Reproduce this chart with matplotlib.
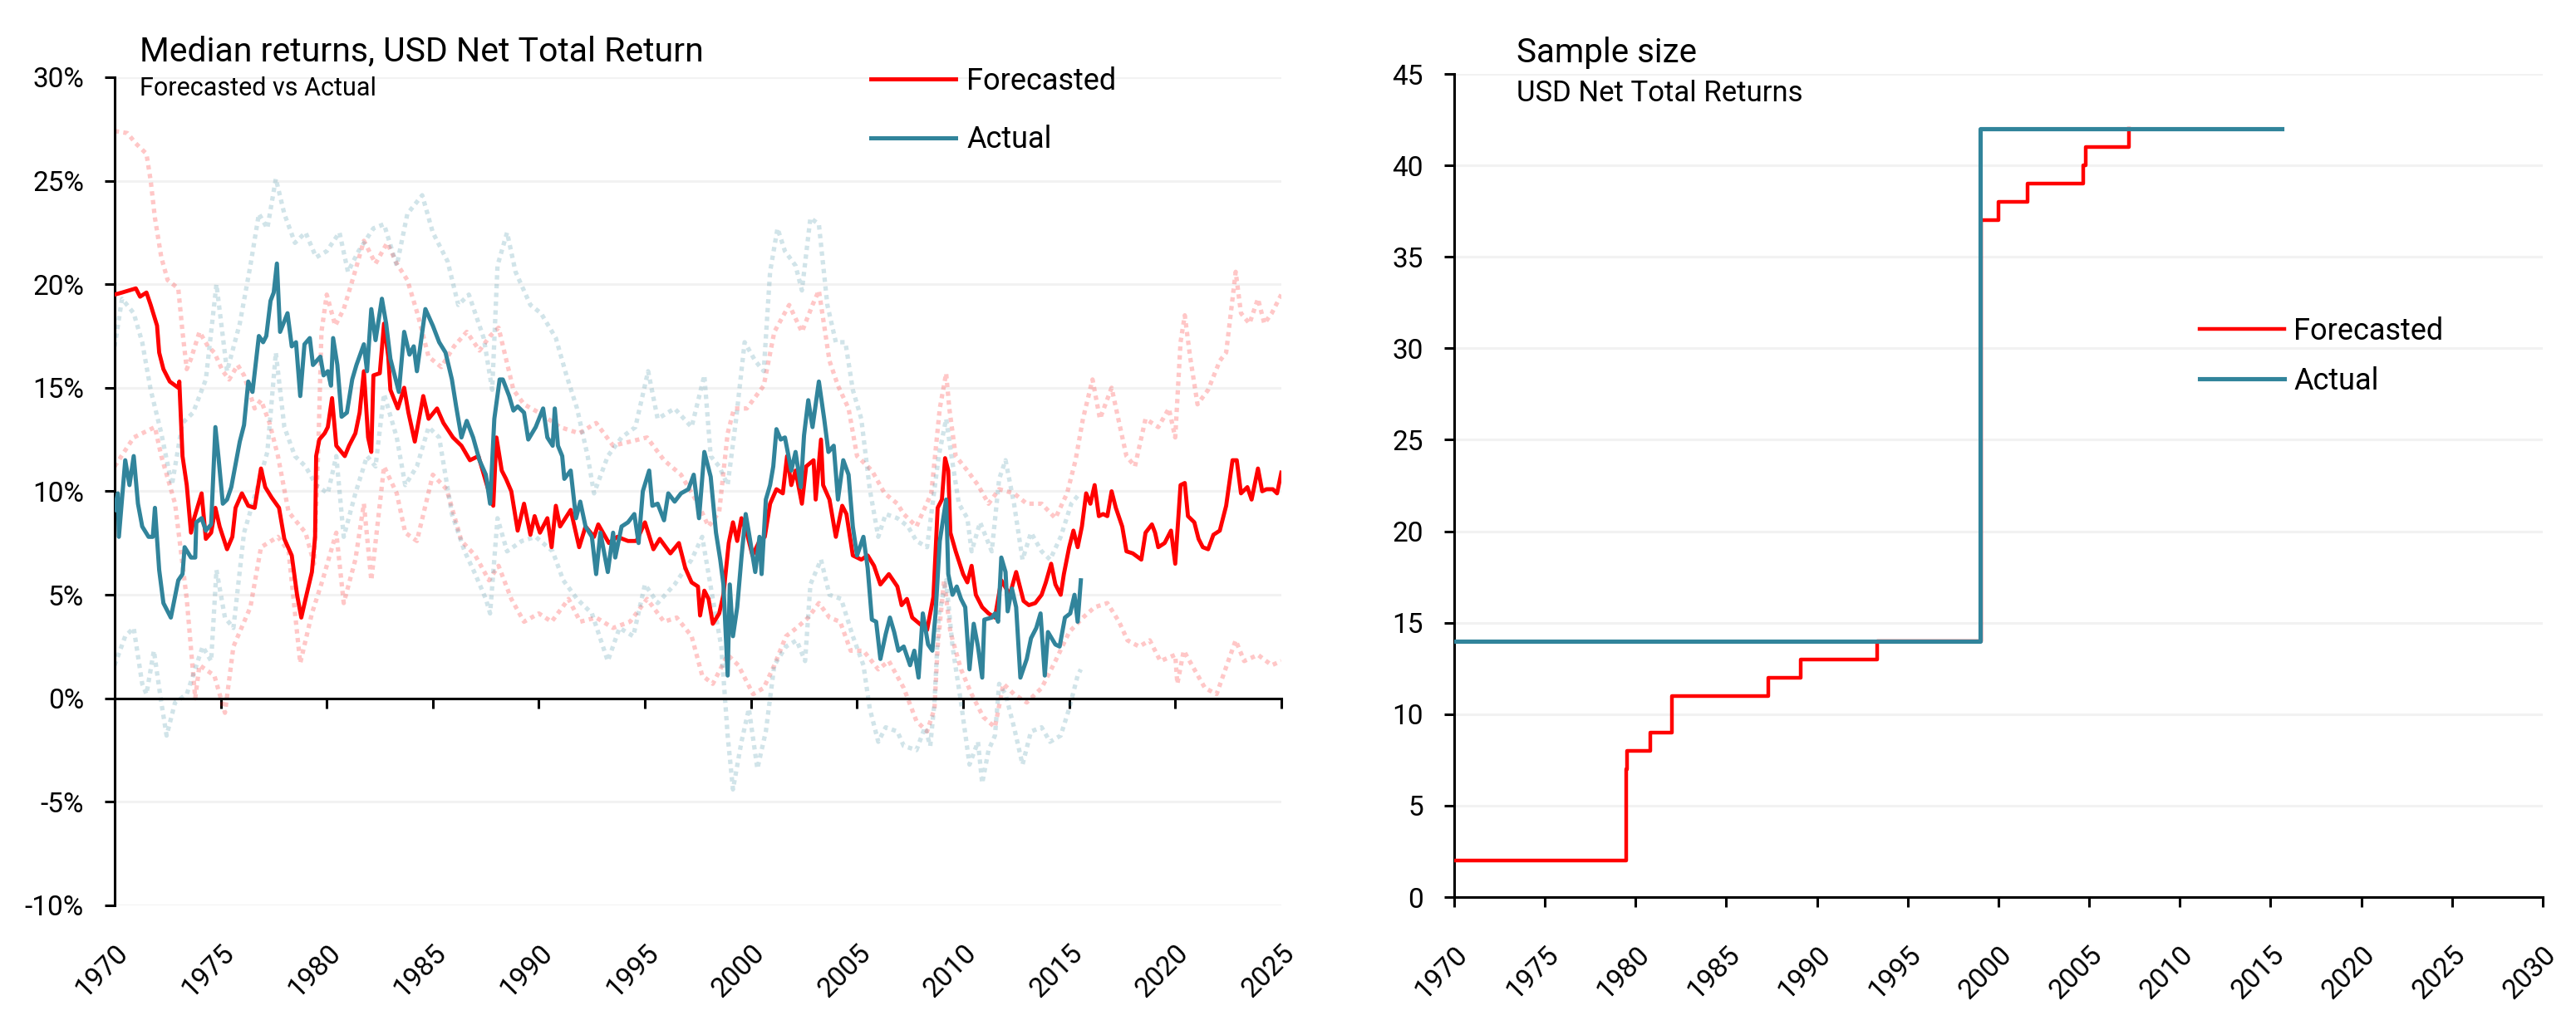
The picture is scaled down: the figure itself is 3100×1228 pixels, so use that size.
import matplotlib
matplotlib.use('Agg')
import matplotlib.pyplot as plt
from matplotlib.ticker import FuncFormatter

plt.rcParams['font.family'] = ['Roboto', 'DejaVu Sans']

RED = '#FF0000'
TEAL = '#31849B'
GRID = '#F2F2F2'

# left chart: median returns in %, (year, value)
fc_median = [
    (1970.0, 19.5), (1970.35, 19.6), (1971.0, 19.8), (1971.2, 19.4), (1971.5, 19.6), (1971.7, 19.0),
    (1972.0, 18.0), (1972.1, 16.7), (1972.3, 15.9), (1972.6, 15.3), (1973.0, 15.0), (1973.05, 15.3),
    (1973.2, 11.7), (1973.4, 10.3), (1973.6, 8.0), (1973.75, 8.7), (1974.1, 9.9), (1974.3, 7.7),
    (1974.55, 8.0), (1974.75, 9.2), (1974.95, 8.3), (1975.3, 7.2), (1975.55, 7.8), (1975.7, 9.2),
    (1976.0, 9.9), (1976.3, 9.3), (1976.6, 9.2), (1976.9, 11.1), (1977.1, 10.2), (1977.4, 9.7),
    (1977.75, 9.2), (1978.0, 7.7), (1978.35, 6.9), (1978.6, 5.0), (1978.8, 3.9), (1979.0, 4.8),
    (1979.3, 6.1), (1979.45, 7.8), (1979.5, 11.7), (1979.65, 12.5), (1979.9, 12.8), (1980.05, 13.1),
    (1980.25, 14.5), (1980.45, 12.2), (1980.85, 11.7), (1981.05, 12.2), (1981.35, 12.8), (1981.55, 13.8),
    (1981.75, 15.8), (1981.95, 12.6), (1982.1, 11.9), (1982.2, 15.6), (1982.5, 15.7), (1982.7, 18.1),
    (1982.9, 16.5), (1983.0, 14.9), (1983.35, 14.0), (1983.65, 15.0), (1983.85, 13.8), (1984.15, 12.4),
    (1984.55, 14.6), (1984.8, 13.5), (1985.2, 14.0), (1985.5, 13.3), (1985.95, 12.6), (1986.35, 12.2),
    (1986.75, 11.5), (1987.15, 11.7), (1987.55, 10.3), (1987.85, 9.3), (1988.0, 12.6), (1988.25, 11.0),
    (1988.45, 10.6), (1988.7, 10.0), (1989.0, 8.1), (1989.3, 9.4), (1989.6, 7.9), (1989.8, 8.8),
    (1990.05, 8.0), (1990.4, 8.7), (1990.6, 7.3), (1990.8, 9.3), (1991.0, 8.3), (1991.5, 9.1),
    (1991.9, 7.3), (1992.2, 8.3), (1992.6, 7.8), (1992.8, 8.4), (1993.3, 7.5), (1993.7, 7.8),
    (1994.2, 7.6), (1994.6, 7.6), (1995.0, 8.5), (1995.4, 7.2), (1995.7, 7.7), (1996.2, 7.0),
    (1996.6, 7.5), (1996.9, 6.3), (1997.2, 5.6), (1997.5, 5.4), (1997.6, 4.0), (1997.8, 5.2),
    (1998.0, 4.8), (1998.2, 3.6), (1998.5, 4.1), (1998.7, 5.0), (1998.95, 7.5), (1999.15, 8.5),
    (1999.35, 7.6), (1999.55, 8.7), (1999.8, 8.0), (2000.07, 6.9), (2000.4, 7.6), (2000.65, 7.8),
    (2000.9, 9.4), (2001.2, 10.1), (2001.5, 9.9), (2001.7, 11.7), (2001.9, 10.3), (2002.1, 11.0),
    (2002.4, 9.4), (2002.6, 11.2), (2002.95, 11.5), (2003.05, 9.6), (2003.3, 12.5), (2003.4, 10.3),
    (2003.7, 9.6), (2004.0, 7.8), (2004.3, 9.3), (2004.5, 8.9), (2004.8, 6.9), (2005.2, 6.7),
    (2005.5, 6.9), (2005.8, 6.4), (2006.1, 5.5), (2006.5, 6.0), (2006.9, 5.4), (2007.1, 4.5),
    (2007.35, 4.8), (2007.6, 3.9), (2007.95, 3.6), (2008.3, 3.3), (2008.6, 4.9), (2008.8, 9.2),
    (2009.0, 9.6), (2009.15, 11.6), (2009.3, 11.0), (2009.4, 8.0), (2009.65, 7.1), (2010.0, 6.0),
    (2010.2, 5.6), (2010.4, 6.4), (2010.6, 5.0), (2010.9, 4.4), (2011.2, 4.1), (2011.5, 3.9),
    (2011.8, 5.7), (2012.2, 5.0), (2012.5, 6.1), (2012.85, 4.7), (2013.1, 4.5), (2013.4, 4.6),
    (2013.7, 5.0), (2013.9, 5.6), (2014.15, 6.5), (2014.35, 5.5), (2014.6, 5.0), (2014.75, 6.0),
    (2015.0, 7.3), (2015.2, 8.1), (2015.4, 7.3), (2015.6, 8.3), (2015.8, 9.9), (2016.0, 9.4),
    (2016.2, 10.3), (2016.4, 8.8), (2016.6, 8.9), (2016.8, 8.8), (2017.0, 10.0), (2017.2, 9.2),
    (2017.5, 8.3), (2017.7, 7.1), (2018.0, 7.0), (2018.4, 6.7), (2018.6, 8.0), (2018.9, 8.4),
    (2019.05, 8.0), (2019.2, 7.3), (2019.5, 7.5), (2019.8, 8.1), (2020.0, 6.5), (2020.25, 10.3),
    (2020.45, 10.4), (2020.6, 8.8), (2020.9, 8.5), (2021.1, 7.7), (2021.3, 7.3), (2021.55, 7.2),
    (2021.8, 7.9), (2022.1, 8.1), (2022.4, 9.3), (2022.7, 11.5), (2022.9, 11.5), (2023.1, 9.9),
    (2023.4, 10.2), (2023.6, 9.6), (2023.9, 11.1), (2024.1, 10.0), (2024.3, 10.1), (2024.6, 10.1),
    (2024.8, 9.9), (2025.0, 10.9),
]

act_median = [
    (1970.0, 9.1), (1970.15, 9.9), (1970.2, 7.8), (1970.5, 11.5), (1970.7, 10.3), (1970.9, 11.7),
    (1971.1, 9.4), (1971.3, 8.3), (1971.6, 7.8), (1971.8, 7.8), (1971.9, 9.2), (1972.1, 6.2),
    (1972.3, 4.6), (1972.65, 3.9), (1973.0, 5.7), (1973.2, 6.0), (1973.3, 7.3), (1973.6, 6.8),
    (1973.8, 6.8), (1973.85, 8.5), (1974.1, 8.7), (1974.3, 8.1), (1974.55, 8.4), (1974.75, 13.1),
    (1974.9, 11.6), (1975.1, 9.4), (1975.3, 9.6), (1975.5, 10.2), (1975.9, 12.4), (1976.1, 13.2),
    (1976.3, 15.3), (1976.5, 14.8), (1976.8, 17.5), (1977.0, 17.2), (1977.15, 17.5), (1977.35, 19.2),
    (1977.5, 19.6), (1977.65, 21.0), (1977.8, 17.7), (1978.15, 18.6), (1978.35, 17.0), (1978.55, 17.2),
    (1978.75, 14.6), (1978.95, 17.1), (1979.2, 17.4), (1979.35, 16.1), (1979.7, 16.5), (1979.85, 15.6),
    (1980.05, 15.8), (1980.2, 15.1), (1980.3, 17.4), (1980.5, 16.1), (1980.7, 13.6), (1980.95, 13.8),
    (1981.2, 15.4), (1981.4, 16.1), (1981.75, 17.1), (1981.9, 15.8), (1982.1, 18.8), (1982.3, 17.3),
    (1982.6, 19.3), (1982.8, 18.1), (1983.0, 16.4), (1983.25, 15.4), (1983.4, 14.8), (1983.65, 17.7),
    (1983.9, 16.6), (1984.1, 17.0), (1984.25, 15.8), (1984.65, 18.8), (1985.0, 18.0), (1985.3, 17.2),
    (1985.6, 16.7), (1985.9, 15.4), (1986.1, 14.1), (1986.35, 12.6), (1986.6, 13.4), (1986.9, 12.6),
    (1987.2, 11.5), (1987.5, 10.8), (1987.7, 9.4), (1987.9, 13.5), (1988.15, 15.4), (1988.3, 15.4),
    (1988.6, 14.6), (1988.8, 13.9), (1989.0, 14.1), (1989.3, 13.8), (1989.5, 12.5), (1989.85, 13.1),
    (1990.2, 14.0), (1990.4, 12.6), (1990.65, 12.2), (1990.75, 14.0), (1990.9, 12.2), (1991.1, 11.7),
    (1991.2, 10.6), (1991.5, 11.0), (1991.75, 8.7), (1991.95, 9.5), (1992.2, 8.3), (1992.5, 7.8),
    (1992.7, 6.0), (1992.9, 8.0), (1993.25, 6.1), (1993.5, 8.0), (1993.6, 6.8), (1993.9, 8.3),
    (1994.2, 8.5), (1994.5, 8.9), (1994.7, 7.5), (1994.9, 10.0), (1995.2, 11.0), (1995.35, 9.3),
    (1995.6, 9.4), (1995.9, 8.6), (1996.1, 9.9), (1996.4, 9.5), (1996.7, 9.9), (1997.05, 10.1),
    (1997.3, 10.8), (1997.55, 8.7), (1997.8, 11.9), (1998.1, 10.7), (1998.35, 8.0), (1998.55, 6.7),
    (1998.7, 5.5), (1998.9, 1.1), (1999.0, 5.5), (1999.15, 3.0), (1999.35, 4.4), (1999.55, 6.8),
    (1999.75, 8.9), (1999.9, 8.0), (2000.2, 6.1), (2000.4, 7.8), (2000.5, 6.0), (2000.7, 9.6),
    (2000.9, 10.3), (2001.05, 11.2), (2001.2, 13.0), (2001.4, 12.5), (2001.6, 12.6), (2001.9, 11.0),
    (2002.1, 11.9), (2002.35, 10.2), (2002.5, 12.7), (2002.7, 14.4), (2002.9, 13.1), (2003.2, 15.3),
    (2003.45, 13.5), (2003.65, 11.9), (2003.9, 12.2), (2004.1, 9.6), (2004.35, 11.5), (2004.6, 10.8),
    (2004.8, 8.3), (2005.0, 6.9), (2005.3, 7.8), (2005.5, 6.3), (2005.7, 3.8), (2005.9, 3.7),
    (2006.1, 1.9), (2006.35, 3.1), (2006.55, 3.9), (2006.75, 3.2), (2006.95, 2.3), (2007.2, 2.5),
    (2007.5, 1.6), (2007.7, 2.3), (2007.9, 1.0), (2008.1, 4.1), (2008.35, 2.6), (2008.55, 2.3),
    (2008.7, 4.1), (2008.9, 7.6), (2009.2, 9.6), (2009.3, 6.0), (2009.5, 5.0), (2009.7, 5.4),
    (2009.9, 4.8), (2010.1, 4.4), (2010.3, 1.4), (2010.5, 3.6), (2010.7, 2.5), (2010.9, 1.0),
    (2011.0, 3.8), (2011.35, 3.9), (2011.5, 4.1), (2011.65, 3.7), (2011.8, 6.8), (2012.0, 6.1),
    (2012.1, 4.2), (2012.3, 5.3), (2012.5, 4.4), (2012.7, 1.0), (2013.0, 1.9), (2013.2, 2.9),
    (2013.45, 3.4), (2013.65, 4.1), (2013.85, 1.1), (2014.0, 3.2), (2014.35, 2.6), (2014.55, 2.5),
    (2014.8, 3.9), (2015.05, 4.1), (2015.25, 5.0), (2015.4, 3.7), (2015.55, 5.7),
]

# faint dotted bands around each median
fc_upper = [
    (1970.0, 27.4), (1970.6, 27.3), (1971.0, 26.8), (1971.5, 26.3), (1971.7, 25.0), (1971.9, 23.2),
    (1972.2, 21.3), (1972.5, 20.2), (1973.0, 19.8), (1973.2, 17.7), (1973.4, 15.9), (1973.6, 16.4),
    (1974.0, 17.7), (1974.4, 17.0), (1974.7, 16.7), (1975.1, 15.8), (1975.4, 15.4), (1975.8, 16.1),
    (1976.1, 15.6), (1976.6, 14.0), (1976.9, 14.4), (1977.3, 13.3), (1977.7, 11.7), (1978.2, 9.0),
    (1978.6, 8.5), (1979.0, 8.0), (1979.4, 6.5), (1979.6, 12.0), (1979.75, 17.7), (1980.0, 19.5),
    (1980.4, 18.0), (1980.8, 18.8), (1981.3, 20.5), (1981.75, 22.1), (1982.3, 21.0), (1982.85, 22.0),
    (1983.3, 21.0), (1983.8, 20.2), (1984.3, 18.5), (1984.8, 16.5), (1985.4, 16.0), (1986.0, 17.0),
    (1986.6, 17.7), (1987.2, 16.8), (1987.7, 17.5), (1988.1, 17.9), (1988.8, 14.9), (1989.3, 14.2),
    (1990.0, 13.8), (1991.0, 13.1), (1991.9, 12.8), (1992.7, 13.3), (1993.5, 12.2), (1994.3, 12.4),
    (1995.1, 12.6), (1995.9, 11.5), (1996.7, 10.8), (1997.5, 9.4), (1998.0, 8.3), (1998.5, 9.0),
    (1998.9, 12.8), (1999.2, 14.0), (1999.8, 14.0), (2000.6, 15.1), (2001.1, 17.7), (2001.8, 19.0),
    (2002.4, 17.7), (2002.9, 19.0), (2003.2, 19.7), (2003.7, 16.3), (2004.1, 15.1), (2004.6, 14.0),
    (2005.0, 11.7), (2005.7, 11.0), (2006.3, 9.9), (2006.9, 9.4), (2007.2, 8.9), (2007.8, 8.3),
    (2008.5, 9.9), (2008.9, 14.0), (2009.2, 15.7), (2009.35, 14.0), (2009.65, 11.7), (2010.2, 11.0),
    (2010.7, 10.3), (2011.2, 9.4), (2011.7, 10.1), (2012.4, 9.9), (2013.0, 9.4), (2013.7, 9.4),
    (2014.35, 8.7), (2014.9, 9.9), (2015.3, 11.5), (2015.65, 13.5), (2016.1, 15.4), (2016.45, 13.5),
    (2017.0, 15.0), (2017.4, 13.1), (2017.7, 11.7), (2018.1, 11.2), (2018.6, 13.5), (2019.2, 13.1),
    (2019.7, 14.0), (2020.0, 12.6), (2020.25, 17.2), (2020.45, 18.5), (2020.7, 16.5), (2021.05, 14.2),
    (2021.55, 14.9), (2022.1, 16.3), (2022.4, 16.7), (2022.7, 19.3), (2022.85, 20.6), (2023.1, 18.6),
    (2023.5, 18.1), (2023.9, 19.3), (2024.2, 18.1), (2024.55, 18.6), (2025.0, 19.5),
]

fc_lower = [
    (1970.0, 11.2), (1970.9, 12.6), (1971.9, 13.1), (1972.2, 11.7), (1972.85, 9.4), (1973.4, 4.8),
    (1973.8, 0.0), (1974.0, 1.6), (1974.7, 1.1), (1975.2, -0.7), (1975.6, 2.5), (1976.4, 4.4),
    (1976.9, 7.3), (1977.7, 7.8), (1978.2, 7.1), (1978.75, 1.7), (1979.3, 4.1), (1979.8, 5.7),
    (1980.45, 8.0), (1980.8, 4.6), (1981.35, 6.7), (1981.75, 9.4), (1982.1, 5.7), (1982.7, 11.2),
    (1983.3, 9.9), (1983.7, 8.0), (1984.25, 7.6), (1985.0, 10.8), (1985.65, 10.1), (1986.35, 7.6),
    (1987.0, 6.9), (1987.65, 5.7), (1988.1, 6.4), (1988.7, 4.8), (1989.3, 3.7), (1990.0, 4.1),
    (1990.6, 3.7), (1991.4, 4.8), (1991.95, 3.7), (1992.7, 3.9), (1993.5, 3.4), (1994.3, 3.7),
    (1995.1, 4.8), (1995.9, 3.7), (1996.5, 3.9), (1997.2, 3.0), (1997.7, 1.1), (1998.2, 0.7),
    (1998.9, 2.1), (1999.4, 1.6), (2000.1, 0.2), (2000.6, 0.5), (2001.1, 1.6), (2001.65, 3.0),
    (2002.15, 3.4), (2002.7, 3.9), (2003.2, 4.6), (2003.7, 3.9), (2004.2, 3.7), (2004.7, 2.3),
    (2005.3, 2.3), (2006.0, 1.4), (2006.5, 1.8), (2007.2, 0.5), (2007.8, -1.1), (2008.3, -1.6),
    (2008.65, -0.5), (2008.8, 2.5), (2009.1, 5.7), (2009.4, 3.2), (2009.9, 1.4), (2010.4, 0.2),
    (2010.95, -0.9), (2011.5, -1.4), (2011.9, 0.7), (2012.4, 0.2), (2013.0, -0.2), (2013.7, 0.5),
    (2014.35, 1.8), (2015.0, 3.2), (2015.65, 3.9), (2016.2, 4.4), (2016.8, 4.6), (2017.35, 3.7),
    (2017.75, 2.8), (2018.3, 2.5), (2018.8, 2.8), (2019.3, 1.8), (2020.0, 2.1), (2020.1, 0.7),
    (2020.4, 2.3), (2020.9, 1.4), (2021.4, 0.5), (2021.95, 0.2), (2022.5, 1.8), (2022.85, 2.8),
    (2023.25, 1.8), (2023.9, 2.1), (2024.55, 1.6), (2025.0, 1.8),
]

act_upper = [
    (1970.0, 17.0), (1970.35, 19.3), (1970.9, 18.6), (1971.3, 17.2), (1971.7, 14.9), (1972.2, 12.8),
    (1972.7, 10.3), (1973.2, 13.3), (1973.7, 13.8), (1974.3, 15.4), (1974.8, 20.0), (1975.3, 15.8),
    (1975.9, 18.1), (1976.4, 20.9), (1976.8, 23.4), (1977.2, 22.7), (1977.6, 25.1), (1978.0, 23.4),
    (1978.5, 22.0), (1979.0, 22.5), (1979.5, 21.3), (1980.0, 21.6), (1980.6, 22.5), (1981.0, 20.6),
    (1981.5, 21.6), (1982.2, 22.7), (1982.7, 22.9), (1983.3, 20.9), (1983.8, 23.4), (1984.5, 24.3),
    (1985.0, 22.5), (1985.7, 21.1), (1986.2, 19.0), (1986.7, 19.5), (1987.4, 17.4), (1987.8, 14.9),
    (1988.05, 20.9), (1988.5, 22.5), (1988.9, 20.6), (1989.6, 19.0), (1990.1, 18.6), (1990.8, 17.4),
    (1991.3, 15.6), (1991.8, 14.0), (1992.3, 11.7), (1992.6, 9.9), (1993.25, 11.7), (1993.9, 12.6),
    (1994.55, 13.1), (1995.15, 15.8), (1995.6, 13.5), (1996.4, 14.0), (1997.2, 13.1), (1997.8, 15.6),
    (1998.1, 11.7), (1998.5, 11.2), (1998.9, 10.3), (1999.3, 13.5), (1999.7, 17.2), (2000.2, 16.3),
    (2000.6, 15.8), (2000.9, 20.6), (2001.25, 22.7), (2001.6, 21.6), (2002.1, 20.9), (2002.4, 19.7),
    (2002.8, 23.2), (2003.2, 22.9), (2003.6, 19.0), (2004.0, 17.2), (2004.45, 17.2), (2004.8, 14.9),
    (2005.2, 13.5), (2005.6, 10.1), (2006.0, 7.8), (2006.35, 8.9), (2006.9, 8.7), (2007.4, 8.3),
    (2007.8, 7.6), (2008.3, 7.3), (2008.85, 11.7), (2009.2, 13.5), (2009.45, 11.7), (2009.8, 9.4),
    (2010.2, 8.7), (2010.4, 7.1), (2010.8, 8.5), (2011.35, 7.1), (2011.7, 10.6), (2012.0, 11.5),
    (2012.4, 9.4), (2012.8, 6.7), (2013.2, 8.0), (2013.7, 7.1), (2014.1, 6.7), (2014.6, 7.8),
    (2015.1, 9.4), (2015.5, 9.9),
]

act_lower = [
    (1970.0, 1.6), (1970.5, 3.0), (1970.9, 3.4), (1971.3, 0.7), (1971.5, 0.2), (1971.85, 2.3),
    (1972.2, -0.2), (1972.45, -1.8), (1972.85, -0.2), (1973.4, 0.2), (1974.15, 2.5), (1974.55, 1.8),
    (1974.8, 6.2), (1975.2, 3.9), (1975.6, 3.4), (1976.1, 8.0), (1976.65, 9.9), (1977.2, 11.9),
    (1977.6, 16.7), (1978.0, 13.1), (1978.5, 11.7), (1979.0, 11.2), (1979.5, 10.3), (1980.05, 9.9),
    (1980.45, 11.7), (1980.8, 7.8), (1981.35, 9.9), (1981.9, 11.7), (1982.3, 11.2), (1982.7, 14.7),
    (1983.3, 12.6), (1983.7, 10.3), (1984.25, 11.2), (1984.8, 13.1), (1985.3, 12.6), (1985.9, 8.9),
    (1986.5, 7.1), (1987.0, 6.0), (1987.5, 4.8), (1987.7, 4.1), (1988.05, 8.7), (1988.5, 7.1),
    (1989.2, 7.6), (1989.85, 7.8), (1990.65, 7.1), (1991.15, 5.7), (1991.8, 4.8), (1992.5, 4.1),
    (1993.25, 1.8), (1993.8, 3.4), (1994.45, 3.0), (1995.0, 5.5), (1995.6, 4.6), (1996.4, 5.5),
    (1997.2, 6.7), (1997.7, 7.8), (1998.2, 4.8), (1998.6, 2.5), (1998.9, -1.8), (1999.15, -4.4),
    (1999.55, -2.1), (1999.9, -0.5), (2000.3, -3.4), (2000.7, -1.6), (2001.1, 1.6), (2001.65, 2.5),
    (2002.15, 2.8), (2002.55, 1.8), (2002.8, 5.5), (2003.3, 6.7), (2003.7, 5.0), (2004.25, 4.8),
    (2004.8, 3.0), (2005.3, 1.6), (2005.6, -0.5), (2006.0, -2.1), (2006.35, -1.4), (2006.9, -1.6),
    (2007.2, -2.3), (2007.8, -2.5), (2008.2, -1.4), (2008.45, -2.3), (2008.65, -0.2), (2008.85, 4.0),
    (2009.2, 5.7), (2009.5, 2.5), (2009.9, -0.2), (2010.3, -3.2), (2010.7, -2.1), (2010.9, -4.1),
    (2011.2, -2.5), (2011.5, -1.8), (2011.7, 0.7), (2012.0, 0.2), (2012.4, -1.4), (2012.8, -3.2),
    (2013.2, -1.6), (2013.7, -1.4), (2014.1, -2.1), (2014.6, -1.8), (2015.0, -0.5), (2015.4, 1.1),
    (2015.55, 1.4),
]

# right chart: sample size, step changes (year, count)
fc_sample = [
    (1970.0, 2), (1979.46, 7), (1979.55, 8), (1980.8, 9), (1982.0, 11), (1987.3, 12), (1989.1, 13),
    (1993.3, 14), (1999.05, 37), (2000.0, 38), (2001.6, 39), (2004.65, 40), (2004.8, 41), (2007.2, 42),
]
act_sample = [(1970.0, 14), (1999.0, 42), (2015.6, 42)]

years_left = list(range(1970, 2026, 5))
years_right = list(range(1970, 2031, 5))

fig = plt.figure(figsize=(31, 12.28), dpi=100)

# ---------------- left panel ----------------
ax1 = fig.add_axes([0.0445, 0.1124, 0.4529, 0.8119])
for band, col in [(fc_upper, RED), (fc_lower, RED), (act_upper, TEAL), (act_lower, TEAL)]:
    bx, by = zip(*band)
    ax1.plot(bx, by, color=col, alpha=0.22, lw=3.8, ls=(0, (1, 1)), zorder=2)
fx, fy = zip(*fc_median)
ax1.plot(fx, fy, color=RED, lw=3.5, label='Forecasted', zorder=4)
axx, axy = zip(*act_median)
ax1.plot(axx, axy, color=TEAL, lw=3.6, label='Actual', zorder=5)

ax1.set_xlim(1970, 2025)
ax1.set_ylim(-10, 30)
ax1.set_yticks(range(-10, 31, 5))
ax1.yaxis.set_major_formatter(FuncFormatter(lambda v, p: f'{v:.0f}%'))
ax1.set_xticks(years_left)
ax1.grid(axis='y', color=GRID, lw=2.2)
ax1.set_axisbelow(True)
for s in ['top', 'right']:
    ax1.spines[s].set_visible(False)
ax1.spines['bottom'].set_position(('data', 0))
for s in ['left', 'bottom']:
    ax1.spines[s].set_linewidth(2.2)
ax1.tick_params(axis='x', labelbottom=False, length=8.6, width=2.2, direction='out')
ax1.tick_params(axis='y', labelsize=24, length=8.6, width=2.2, pad=18)

sec = ax1.secondary_xaxis(0.0)
sec.set_ticks(years_left, labels=[str(y) for y in years_left], rotation=45, ha='right',
              rotation_mode='anchor')
sec.tick_params(length=0, labelsize=24, pad=30)
sec.spines['bottom'].set_visible(False)

ax1.legend(loc='center left', bbox_to_anchor=(0.338, 0.8917), bbox_transform=fig.transFigure,
           frameon=False, fontsize=26, handlelength=2.83, handletextpad=0.36, labelspacing=0.95,
           borderpad=0, borderaxespad=0)

fig.text(0.0542, 0.9397, 'Median returns, USD Net Total Return', fontsize=29.5, va='baseline')
fig.text(0.0542, 0.9064, 'Forecasted vs Actual', fontsize=22, va='baseline')

# ---------------- right panel ----------------
ax2 = fig.add_axes([0.5645, 0.1205, 0.4226, 0.8070])
sx, sy = zip(*fc_sample)
ax2.step(sx, sy, where='post', color=RED, lw=3.2, label='Forecasted', zorder=4)
tx, ty = zip(*act_sample)
ax2.step(tx, ty, where='post', color=TEAL, lw=3.7, label='Actual', zorder=5)

ax2.set_xlim(1970, 2030)
ax2.set_ylim(0, 45)
ax2.set_yticks(range(0, 46, 5))
ax2.set_xticks(years_right, labels=[str(y) for y in years_right], rotation=45, ha='right',
               rotation_mode='anchor')
ax2.grid(axis='y', color=GRID, lw=2.2)
ax2.set_axisbelow(True)
for s in ['top', 'right']:
    ax2.spines[s].set_visible(False)
for s in ['left', 'bottom']:
    ax2.spines[s].set_linewidth(2.2)
ax2.tick_params(axis='x', labelsize=24, length=8.6, width=2.2, pad=30)
ax2.tick_params(axis='y', labelsize=24, length=8.6, width=2.2, pad=18)

ax2.legend(loc='center left', bbox_to_anchor=(0.8539, 0.6507), bbox_transform=fig.transFigure,
           frameon=False, fontsize=26, handlelength=2.83, handletextpad=0.3, labelspacing=0.67,
           borderpad=0, borderaxespad=0)

fig.text(0.5887, 0.9389, 'Sample size', fontsize=29, va='baseline')
fig.text(0.5887, 0.9007, 'USD Net Total Returns', fontsize=25, va='baseline')

fig.savefig('out.png', dpi=100)
